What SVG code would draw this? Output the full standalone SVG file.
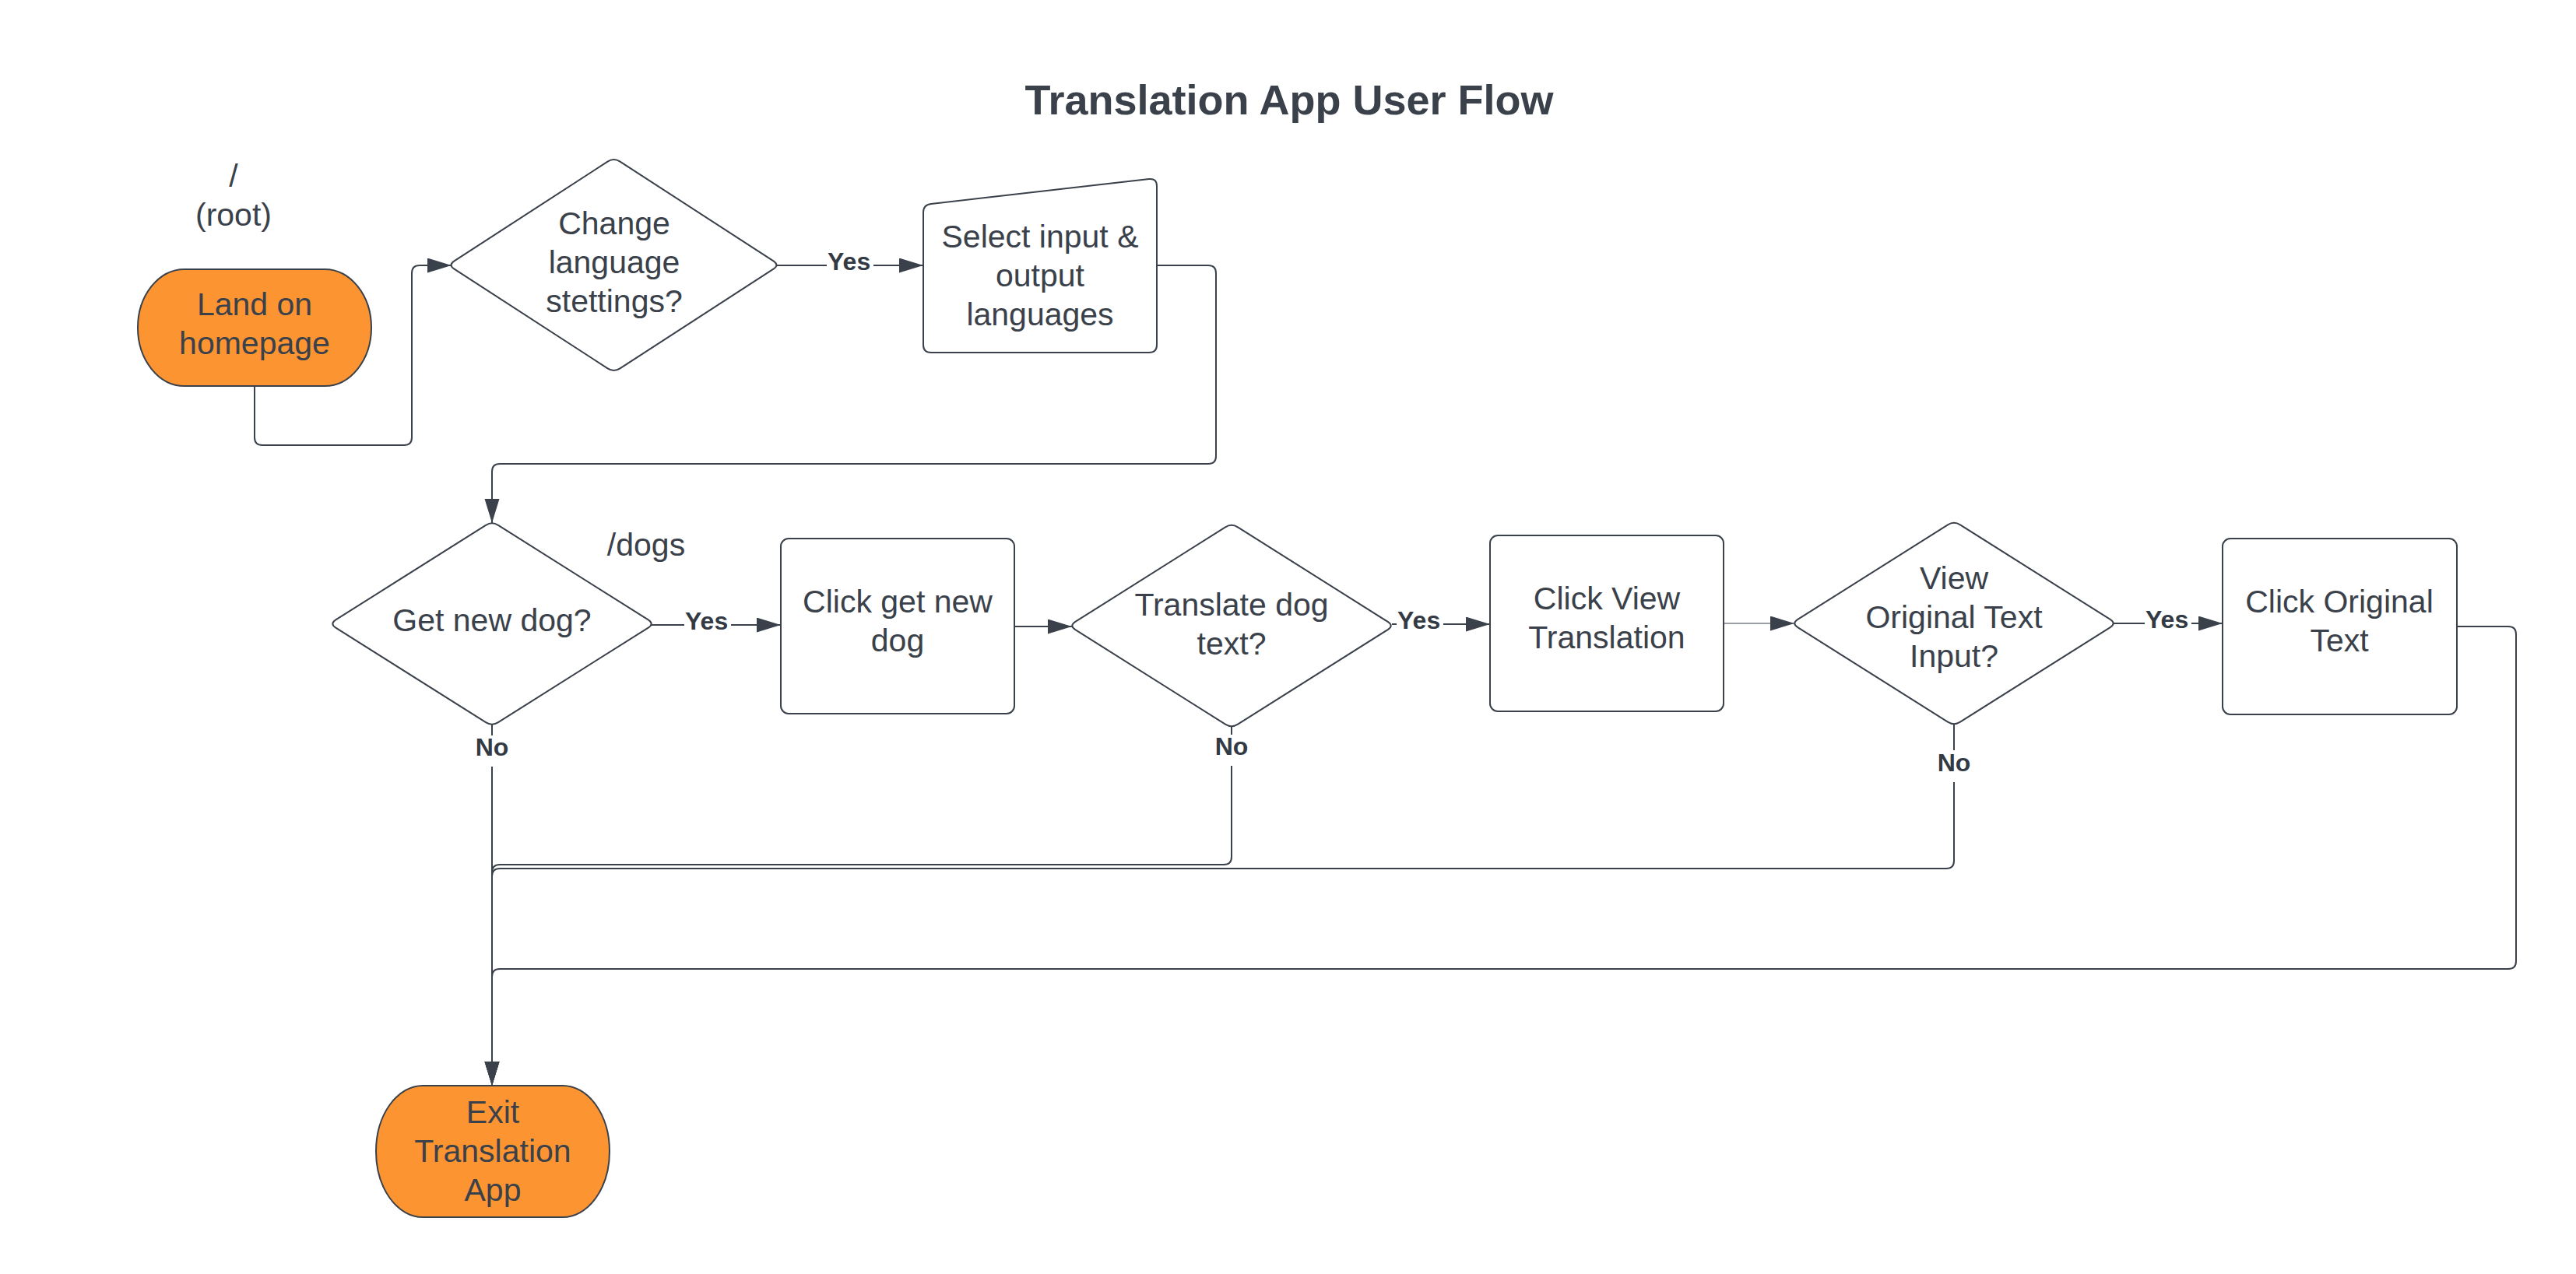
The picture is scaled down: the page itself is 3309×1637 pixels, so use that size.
<svg xmlns="http://www.w3.org/2000/svg" width="3309" height="1637" viewBox="0 0 3309 1637">
<style>
.bg{fill:#ffffff}
.shape{fill:#ffffff;stroke:#3a414a;stroke-width:2}
.term{fill:#fc9432;stroke:#3a414a;stroke-width:2}
.t{font-family:"Liberation Sans",Arial,sans-serif;font-size:41px;fill:#3a414a;text-anchor:middle}
.title{font-family:"Liberation Sans",Arial,sans-serif;font-size:54px;font-weight:bold;fill:#3a414a;text-anchor:middle}
.lbl{font-family:"Liberation Sans",Arial,sans-serif;font-size:32px;font-weight:bold;fill:#333a44}
.lblc{text-anchor:middle}
.conn{fill:none;stroke:#3a414a;stroke-width:2}
.thin{stroke-width:1.2}
.mid{stroke-width:2}
.lblbg{fill:#ffffff}
</style>
<defs>
<marker id="arrow" markerUnits="userSpaceOnUse" markerWidth="32" markerHeight="20" refX="31" refY="9.5" orient="auto">
<path d="M0,0 L31,9.5 L0,19 Z" fill="#3a414a"/>
</marker>
</defs>
<rect class="bg" x="0" y="0" width="3309" height="1637"/>

<text id="title" class="title" x="1656" y="147">Translation App User Flow</text>

<g id="connectors">
<path class="conn" d="M327,496 V562 Q327,572 337,572 H519 Q529,572 529,562 V351 Q529,341 539,341 H580" marker-end="url(#arrow)"/>
<path class="conn mid" d="M998,341 H1186" marker-end="url(#arrow)"/>
<path class="conn" d="M1486,341 H1552 Q1562,341 1562,351 V586 Q1562,596 1552,596 H642 Q632,596 632,606 V672" marker-end="url(#arrow)"/>
<path class="conn mid" d="M837,803 H1003" marker-end="url(#arrow)"/>
<path class="conn mid" d="M1303,805 H1377" marker-end="url(#arrow)"/>
<path class="conn mid" d="M1788,802 H1914" marker-end="url(#arrow)"/>
<path class="conn thin" d="M2214,801 H2305" marker-end="url(#arrow)"/>
<path class="conn mid" d="M2715,801 H2855" marker-end="url(#arrow)"/>
<path class="conn" d="M3156,805 H3222 Q3232,805 3232,815 V1235 Q3232,1245 3222,1245 H642 Q632,1245 632,1255 V1395" marker-end="url(#arrow)"/>
<path class="conn" d="M2510,930 V1106 Q2510,1116 2500,1116 H642 Q632,1116 632,1126 V1395" marker-end="url(#arrow)"/>
<path class="conn" d="M1582,934 V1101 Q1582,1111 1572,1111 H642 Q632,1111 632,1121 V1395" marker-end="url(#arrow)"/>
<path class="conn" d="M632,931 V1395" marker-end="url(#arrow)"/>

<rect class="lblbg" x="1062" y="325" width="60" height="32"/>
<text class="lbl" x="1063" y="347">Yes</text>
<rect class="lblbg" x="879" y="787" width="60" height="32"/>
<text class="lbl" x="880" y="809">Yes</text>
<rect class="lblbg" x="1794" y="786" width="60" height="32"/>
<text class="lbl" x="1795" y="808">Yes</text>
<rect class="lblbg" x="2755" y="785" width="60" height="32"/>
<text class="lbl" x="2756" y="807">Yes</text>
<rect class="lblbg" x="608" y="945" width="48" height="40"/>
<text class="lbl lblc" x="632" y="971">No</text>
<rect class="lblbg" x="1558" y="944" width="48" height="40"/>
<text class="lbl lblc" x="1582" y="970">No</text>
<rect class="lblbg" x="2486" y="964" width="48" height="41"/>
<text class="lbl lblc" x="2510" y="991">No</text>
</g>

<g id="label-root">
<text class="t" x="300" y="240">/</text>
<text class="t" x="300" y="290">(root)</text>
</g>

<g id="label-dogs">
<text class="t" x="830" y="714">/dogs</text>
</g>

<g id="node-land">
<rect class="term" x="177" y="346" width="300" height="150" rx="60" ry="75"/>
<text class="t"><tspan x="327" y="405">Land on</tspan><tspan x="327" y="455">homepage</tspan></text>
</g>

<g id="node-change-lang">
<path class="shape" d="M583.5,335.3 L780.5,207.7 Q788.5,202.5 796.5,207.7 L993.5,335.3 Q1001.5,340.5 993.5,345.7 L796.5,473.3 Q788.5,478.5 780.5,473.3 L583.5,345.7 Q575.5,340.5 583.5,335.3 Z"/>
<text class="t"><tspan x="789" y="301">Change</tspan><tspan x="789" y="351">language</tspan><tspan x="789" y="401">stettings?</tspan></text>
</g>

<g id="node-select-lang">
<path class="shape" d="M1186,273 Q1186,263 1196,262 L1476,230 Q1486,229 1486,239 V443 Q1486,453 1476,453 H1196 Q1186,453 1186,443 Z"/>
<text class="t"><tspan x="1336" y="318">Select input &amp;</tspan><tspan x="1336" y="368">output</tspan><tspan x="1336" y="418">languages</tspan></text>
</g>

<g id="node-get-dog">
<path class="shape" d="M431.3,796.45 L624,674.85 Q632,669.8 640,674.85 L832.7,796.45 Q840.7,801.5 832.7,806.55 L640,928.15 Q632,933.2 624,928.15 L431.3,806.55 Q423.3,801.5 431.3,796.45 Z"/>
<text class="t" x="632" y="811">Get new dog?</text>
</g>

<g id="node-click-dog">
<rect class="shape" x="1003" y="692" width="300" height="225" rx="10" ry="10"/>
<text class="t"><tspan x="1153" y="787">Click get new</tspan><tspan x="1153" y="837">dog</tspan></text>
</g>

<g id="node-translate">
<path class="shape" d="M1381.3,798.95 L1574,677.35 Q1582,672.3 1590,677.35 L1782.7,798.95 Q1790.7,804 1782.7,809.05 L1590,930.65 Q1582,935.7 1574,930.65 L1381.3,809.05 Q1373.3,804 1381.3,798.95 Z"/>
<text class="t"><tspan x="1582" y="791">Translate dog</tspan><tspan x="1582" y="841">text?</tspan></text>
</g>

<g id="node-click-view">
<rect class="shape" x="1914" y="688" width="300" height="226" rx="10" ry="10"/>
<text class="t"><tspan x="2064" y="783">Click View</tspan><tspan x="2064" y="833">Translation</tspan></text>
</g>

<g id="node-view-original">
<path class="shape" d="M2309.3,795.95 L2502,674.35 Q2510,669.3 2518,674.35 L2710.7,795.95 Q2718.7,801 2710.7,806.05 L2518,927.65 Q2510,932.7 2502,927.65 L2309.3,806.05 Q2301.3,801 2309.3,795.95 Z"/>
<text class="t"><tspan x="2510" y="757">View</tspan><tspan x="2510" y="807">Original Text</tspan><tspan x="2510" y="857">Input?</tspan></text>
</g>

<g id="node-click-original">
<rect class="shape" x="2855" y="692" width="301" height="226" rx="10" ry="10"/>
<text class="t"><tspan x="3005" y="787">Click Original</tspan><tspan x="3005" y="837">Text</tspan></text>
</g>

<g id="node-exit">
<rect class="term" x="483" y="1395" width="300" height="169" rx="60" ry="84.5"/>
<text class="t"><tspan x="633" y="1443">Exit</tspan><tspan x="633" y="1493">Translation</tspan><tspan x="633" y="1543">App</tspan></text>
</g>
</svg>
